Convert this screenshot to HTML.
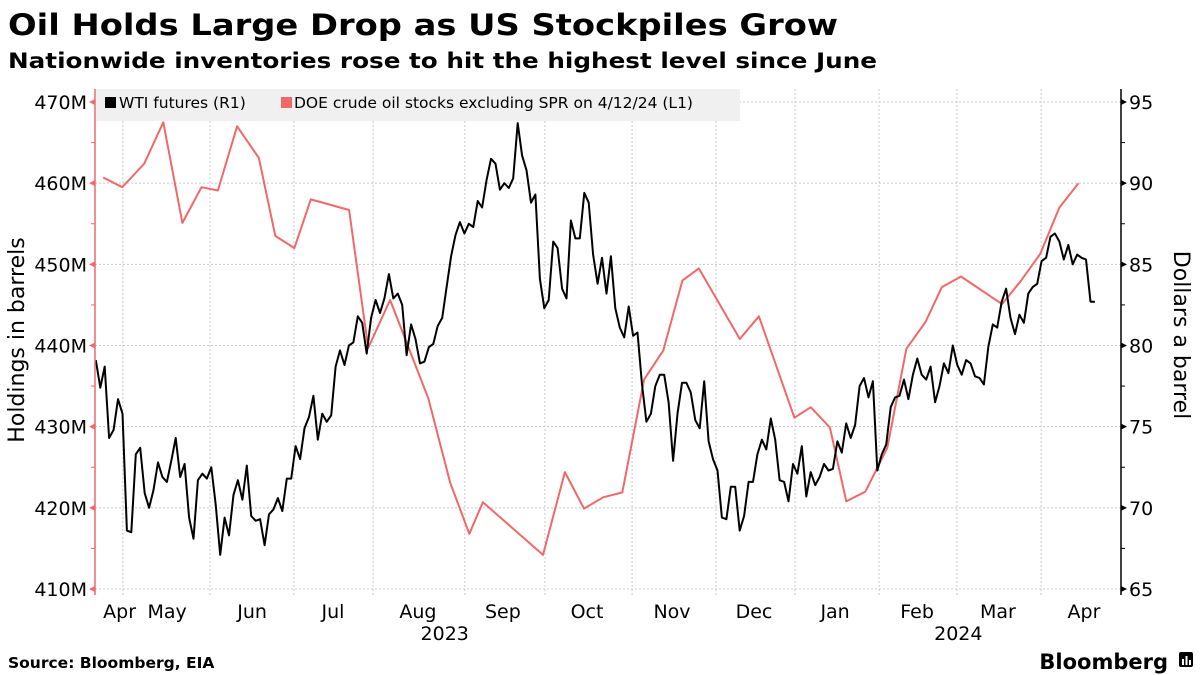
<!DOCTYPE html>
<html><head><meta charset="utf-8"><style>
html,body{margin:0;padding:0;background:#fff;}
svg{display:block;font-family:"DejaVu Sans","Liberation Sans",sans-serif;}
</style></head><body>
<svg id="chart" width="1200" height="675" viewBox="0 0 1200 675" xmlns="http://www.w3.org/2000/svg">
<text x="8" y="35" font-size="29" font-weight="bold" textLength="830" lengthAdjust="spacingAndGlyphs">Oil Holds Large Drop as US Stockpiles Grow</text>
<text x="8" y="68" font-size="21" font-weight="bold" textLength="869" lengthAdjust="spacingAndGlyphs">Nationwide inventories rose to hit the highest level since June</text>
<g id="grid"></g>
<rect x="96" y="89" width="644" height="32" fill="#f0f0f0"/>
<g>
<rect x="105" y="97" width="11" height="11" fill="#000"/>
<text x="119" y="108" font-size="15.5">WTI futures (R1)</text>
</g>
<g>
<rect x="281" y="97" width="11" height="11" fill="#f26868"/>
<text x="294" y="108" font-size="15.5">DOE crude oil stocks excluding SPR on 4/12/24 (L1)</text>
</g>
<g id="marks"></g>
<g id="axes"></g>
<text transform="translate(24,340) rotate(-90)" text-anchor="middle" font-size="22">Holdings in barrels</text>
<text transform="translate(1174,335) rotate(90)" text-anchor="middle" font-size="22">Dollars a barrel</text>
<text x="8" y="668" font-size="15.5" font-weight="bold">Source: Bloomberg, EIA</text>
<text x="1168" y="669" font-size="21" font-weight="bold" text-anchor="end">Bloomberg</text>
<g>
<rect x="1179" y="652" width="14" height="15" rx="2" fill="#000"/>
<rect x="1182" y="659" width="2" height="6" fill="#fff"/><rect x="1185.5" y="656" width="2" height="9" fill="#fff"/><rect x="1189" y="660" width="2" height="5" fill="#fff"/>
</g>
</svg>
<script>
const wtiValues = [79.1,77.4,78.7,74.3,74.8,76.7,75.8,68.6,68.5,73.3,73.7,70.9,70.0,71.1,72.8,71.9,71.6,72.9,74.3,71.9,72.7,69.4,68.1,71.7,72.1,71.8,72.5,70.2,67.1,69.4,68.3,70.8,71.7,70.5,72.6,69.5,69.2,69.3,67.7,69.6,69.9,70.6,69.8,71.8,71.8,73.8,73.0,74.9,75.6,76.9,74.2,75.8,75.3,75.7,78.7,79.7,78.8,80.0,80.2,81.8,81.4,79.5,81.7,82.8,82.0,82.9,84.4,82.9,83.2,82.5,79.4,81.3,80.4,78.9,79.0,79.9,80.1,81.2,81.7,83.6,85.5,86.8,87.6,86.9,87.5,87.3,88.9,88.5,90.2,91.5,91.2,89.6,90.0,89.7,90.3,93.7,91.7,90.8,88.8,89.3,84.1,82.3,82.8,86.4,86.0,83.5,82.9,87.7,86.6,86.6,89.4,88.8,85.6,83.8,85.4,83.2,85.5,82.3,81.1,80.5,82.4,80.6,80.8,77.6,75.3,75.8,77.5,78.2,78.2,76.5,72.9,75.8,77.7,77.7,77.1,75.4,74.9,77.8,74.1,73.0,72.3,69.4,69.3,71.3,71.3,68.6,69.5,71.6,71.6,73.3,74.2,73.6,75.5,74.2,71.7,71.6,70.4,72.7,72.1,73.8,70.7,72.2,71.4,71.9,72.7,72.3,72.4,74.1,73.4,75.2,74.3,75.1,77.5,78.0,76.8,77.8,72.3,73.3,73.9,76.2,76.8,76.9,77.9,76.7,78.2,79.2,78.2,77.9,78.7,76.5,77.5,78.9,78.3,80.0,78.8,78.2,79.1,78.9,78.1,78.0,77.6,79.9,81.3,81.1,82.7,83.5,81.7,80.7,81.9,81.4,83.2,83.6,83.8,85.2,85.4,86.7,86.9,86.4,85.3,86.2,85.0,85.6,85.4,85.3,82.7,82.7];
const wtiStartDay = 0.3;
const wtiEndDay = 366;
const doeDays = [3,10,18,25,32,39,45,52,60,66,73,79,93,100,108,122,130,137,142,164,172,179,186,193,201,208,215,221,236,243,256,262,269,275,282,290,297,304,310,317,332,339,346,353,360];
const doeValues = [460.7,459.5,462.4,467.5,455.1,459.5,459.1,467.0,463.1,453.5,452.0,458.0,456.7,439.7,445.6,433.5,423.1,416.8,420.7,414.2,424.4,419.9,421.3,421.9,435.8,439.4,448.0,449.5,440.8,443.6,431.1,432.4,429.9,420.8,422.0,427.4,439.6,442.9,447.2,448.5,445.1,448.0,451.3,457.0,460.0];
const leftTicks = [410,420,430,440,450,460,470];
const leftTickLabels = ["410M","420M","430M","440M","450M","460M","470M"];
const rightTicks = [65,70,75,80,85,90,95];
const gridDays = [10.2,42.1,72.8,101.8,135.4,164.7,196.6,227.3,256.2,287.0,315.5,346.3];
const monthLabels = ["Apr","May","Jun","Jul","Aug","Sep","Oct","Nov","Dec","Jan","Feb","Mar","Apr"];
const monthLabelDays = [9,26.4,57.5,87.1,118.2,149.3,180.1,211.2,241.2,270.9,300.9,330.5,362];
const yearLabels = ["2023","2024"];
const yearLabelDays = [128,316];

const NS="http://www.w3.org/2000/svg";
const PL=95, PR=1121, PT=89, PB=595;
const xDay = d => 95 + d*2.732;
const yR = v => 589 - (v-65)*(487/30);
const yL = v => 589 - (v-410)*(487/60);
function mk(tag, parent, attrs){const e=document.createElementNS(NS,tag);for(const k in attrs)e.setAttribute(k,attrs[k]);parent.appendChild(e);return e;}
const grid=document.getElementById('grid'), marks=document.getElementById('marks'), axes=document.getElementById('axes');

rightTicks.forEach(v=>{
  const l=mk('line',grid,{x1:PL,x2:PR,y1:yR(v),y2:yR(v),stroke:'#c8c8c8','stroke-dasharray':'2,2','stroke-width':1});
  
  
});
gridDays.forEach(d=>{
  const l=mk('line',grid,{x1:xDay(d),x2:xDay(d),y1:PT,y2:PB,stroke:'#c8c8c8','stroke-dasharray':'2,2','stroke-width':1});
  
  
});

let dp='';
doeDays.forEach((d,i)=>{dp+=(i?'L':'M')+xDay(d).toFixed(1)+','+yL(doeValues[i]).toFixed(1);});
const doe=mk('path',marks,{d:dp,fill:'none',stroke:'#f26868','stroke-width':2,'stroke-linejoin':'round'});


let wp='';
const n=wtiValues.length;
wtiValues.forEach((v,i)=>{const d=wtiStartDay+i*(wtiEndDay-wtiStartDay)/(n-1);wp+=(i?'L':'M')+xDay(d).toFixed(1)+','+yR(v).toFixed(1);});
const wti=mk('path',marks,{d:wp,fill:'none',stroke:'#000','stroke-width':2,'stroke-linejoin':'round'});



const la=mk('line',axes,{x1:PL,x2:PL,y1:PT,y2:PB,stroke:'#f26868','stroke-width':1.5});


const ra=mk('line',axes,{x1:PR,x2:PR,y1:PT,y2:PB,stroke:'#000','stroke-width':1.5});


leftTicks.forEach((v,i)=>{
  const y=yL(v);
  mk('path',axes,{d:`M${PL},${y-3}L${PL-6},${y}L${PL},${y+3}Z`,fill:'#f26868'});
  if(i<leftTicks.length-1) mk('line',axes,{x1:PL-4,x2:PL,y1:yL(v+5),y2:yL(v+5),stroke:'#f26868','stroke-width':1});
  const t=mk('text',axes,{x:PL-8,y:y+7,'text-anchor':'end','font-size':19});
  t.textContent=leftTickLabels[i];
  
  
});
rightTicks.forEach((v,i)=>{
  const y=yR(v);
  mk('path',axes,{d:`M${PR},${y-3}L${PR+6},${y}L${PR},${y+3}Z`,fill:'#000'});
  if(i<rightTicks.length-1) mk('line',axes,{x1:PR,x2:PR+4,y1:yR(v+2.5),y2:yR(v+2.5),stroke:'#000','stroke-width':1});
  const t=mk('text',axes,{x:PR+8,y:y+7,'font-size':19});
  t.textContent=String(v);
  
  
});
monthLabels.forEach((m,i)=>{
  const t=mk('text',axes,{x:xDay(monthLabelDays[i]),y:618,'text-anchor':'middle','font-size':19});
  t.textContent=m;
  
  
});
yearLabels.forEach((yv,i)=>{
  const t=mk('text',axes,{x:xDay(yearLabelDays[i]),y:640,'text-anchor':'middle','font-size':19});
  t.textContent=yv;
  
  
});
</script>
</body></html>
